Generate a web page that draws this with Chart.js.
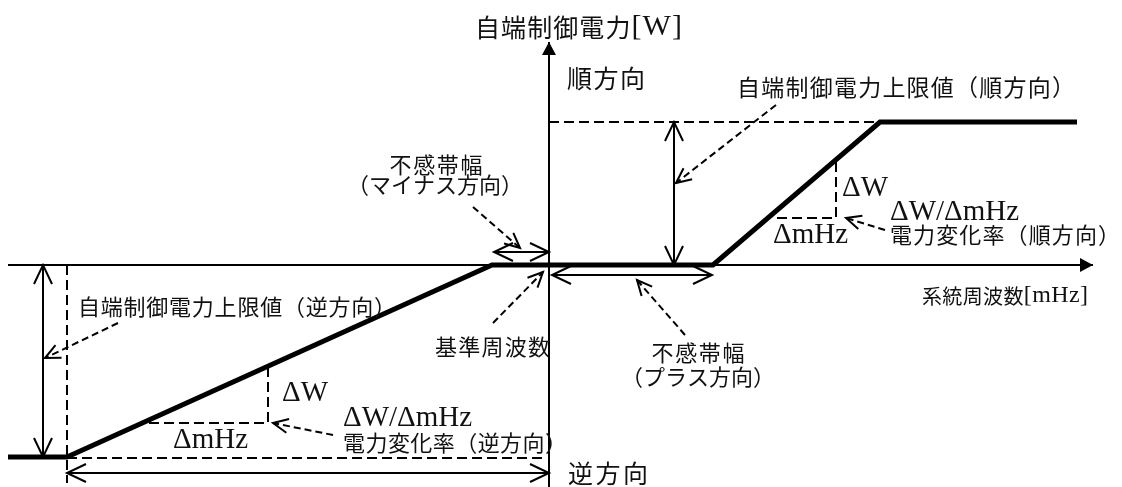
<!DOCTYPE html>
<html lang="ja">
<head>
<meta charset="utf-8">
<title>自端制御電力</title>
<script src="https://cdn.jsdelivr.net/npm/chart.js@4"></script>
<style>
  html, body { margin: 0; padding: 0; background: #fff; }
  #chart { display: block; }
</style>
</head>
<body>
<canvas id="chart" width="1122" height="487"></canvas>
<script>
(() => {
  // diagram units: frequency offset from the reference frequency / control power
  const freqRange = [-549, 573];
  const powerRange = [-222, 265];

  const freqAxisFreq = [-541, 544];
  const freqAxisPower = [0, 0];
  const powerAxisFreq = [0, 0];
  const powerAxisPower = [-222, 223];

  // control characteristic (bold)
  const droopFreq = [-541, -482, -57, 164, 331, 528];
  const droopPower = [-192, -192, 0, 0, 143, 143];

  // dashed guides
  const fwdLimitFreq = [0, 331];
  const fwdLimitPower = [143, 143];
  const revLimitFreq = [-482, -482];
  const revLimitPower = [0, -218];
  const revEdgeFreq = [-482, -6];
  const revEdgePower = [-193, -193];
  const fwdStepFreq = [287, 287, 223];
  const fwdStepPower = [103, 47, 47];
  const revStepFreq = [-281, -281, -402];
  const revStepPower = [-102, -158, -158];

  // double-headed dimension arrows
  const fwdSpanFreq = [125, 125];
  const fwdSpanPower = [0, 143];
  const revSpanFreq = [-506, -506];
  const revSpanPower = [0, -192];
  const minusBandFreq = [-55, 0];
  const minusBandPower = [13, 13];
  const plusBandFreq = [3, 163];
  const plusBandPower = [-10, -10];
  const revBandFreq = [-482, 0];
  const revBandPower = [-208, -208];

  // dashed leader arrows [fromFreq, toFreq], [fromPower, toPower]
  const leaders = [
    { freq: [227, 127], power: [160, 82] },
    { freq: [336, 297], power: [35, 47] },
    { freq: [-76, -29], power: [58, 17] },
    { freq: [-56, -6], power: [-58, -7] },
    { freq: [136, 88], power: [-70, -15] },
    { freq: [-431, -504], power: [-58, -93] },
    { freq: [-216, -276], power: [-170, -158] },
  ];

  const labelTexts = [
    "自端制御電力[W]", "順方向", "自端制御電力上限値（順方向）",
    "不感帯幅", "（マイナス方向）", "ΔW", "ΔW/ΔmHz", "ΔmHz",
    "電力変化率（順方向）", "系統周波数[mHz]", "自端制御電力上限値（逆方向）",
    "基準周波数", "不感帯幅", "（プラス方向）", "ΔW", "ΔW/ΔmHz", "ΔmHz",
    "電力変化率（逆方向）", "逆方向",
  ];
  const labelFreq = [-74, 18, 188, -113, -114, 293, 341, 224, 341, 373, -471, -114, 149, 149, -267, -206, -376, -206, 19];
  const labelPower = [238, 187, 178, 100, 80, 77, 53, 30, 30, -31, -42, -82, -88, -112, -128, -153, -175, -178, -208];

  const labelSize = [25, 25, 23, 22, 22, 24, 24, 24, 22, 20, 22, 22, 22, 22, 24, 24, 24, 22, 25];
  // 0 = natural width
  const labelWidth = [207, 78, 338, 93, 0, 0, 0, 0, 230, 166, 318, 115, 93, 0, 0, 0, 0, 224, 80];
  const labelAlign = ["left", "left", "left", "center", "center", "left", "left", "left", "left", "left", "left", "left", "center", "center", "left", "left", "left", "left", "left"];

  const LATIN_SCALE = 1.2;

  function points(xs, ys) {
    return xs.map((x, i) => ({ x, y: ys[i] }));
  }

  function line(xs, ys, style) {
    return Object.assign({
      data: points(xs, ys),
      showLine: true,
      borderColor: "#000",
      backgroundColor: "#000",
      borderWidth: 2,
      pointRadius: 0,
      fill: false,
      borderCapStyle: "butt",
      borderJoinStyle: "miter",
    }, style);
  }

  const guide = { borderDash: [10, 5] };
  const openBoth = { heads: { start: true, end: true, len: 19, half: 9 } };

  const datasets = [
    line(freqAxisFreq, freqAxisPower, { heads: { end: true, filled: true, len: 13, half: 7 } }),
    line(powerAxisFreq, powerAxisPower, { heads: { end: true, filled: true, len: 13, half: 7 } }),
    line(fwdLimitFreq, fwdLimitPower, guide),
    line(revLimitFreq, revLimitPower, guide),
    line(revEdgeFreq, revEdgePower, guide),
    line(fwdStepFreq, fwdStepPower, guide),
    line(revStepFreq, revStepPower, guide),
    line(fwdSpanFreq, fwdSpanPower, openBoth),
    line(revSpanFreq, revSpanPower, openBoth),
    line(minusBandFreq, minusBandPower, openBoth),
    line(plusBandFreq, plusBandPower, openBoth),
    line(revBandFreq, revBandPower, openBoth),
    line(droopFreq, droopPower, { borderWidth: 5 }),
  ];
  leaders.forEach((l) => {
    datasets.push(line(l.freq, l.power, { borderDash: [7, 4], heads: { end: true, len: 15, half: 7 } }));
  });

  function drawHead(ctx, from, to, h) {
    const ang = Math.atan2(to.y - from.y, to.x - from.x);
    const bx = to.x - h.len * Math.cos(ang);
    const by = to.y - h.len * Math.sin(ang);
    const px = -Math.sin(ang) * h.half;
    const py = Math.cos(ang) * h.half;
    ctx.save();
    ctx.setLineDash([]);
    ctx.strokeStyle = "#000";
    ctx.fillStyle = "#000";
    ctx.lineWidth = 2;
    ctx.beginPath();
    if (h.filled) {
      ctx.moveTo(to.x, to.y);
      ctx.lineTo(bx + px, by + py);
      ctx.lineTo(bx - px, by - py);
      ctx.closePath();
      ctx.fill();
    } else {
      ctx.moveTo(bx + px, by + py);
      ctx.lineTo(to.x, to.y);
      ctx.lineTo(bx - px, by - py);
      ctx.stroke();
    }
    ctx.restore();
  }

  const arrowHeads = {
    id: "arrowHeads",
    afterDatasetsDraw(chart) {
      chart.data.datasets.forEach((ds, i) => {
        if (!ds.heads) return;
        const pts = chart.getDatasetMeta(i).data;
        const n = pts.length;
        if (ds.heads.end) drawHead(chart.ctx, pts[n - 2], pts[n - 1], ds.heads);
        if (ds.heads.start) drawHead(chart.ctx, pts[1], pts[0], ds.heads);
      });
    },
  };

  // latin / greek glyphs in a Times-like face, Japanese in Noto Sans CJK
  function glyphFont(ch, size) {
    return ch.charCodeAt(0) < 0x2000
      ? `${Math.round(size * LATIN_SCALE)}px "Liberation Serif", serif`
      : `${size}px "Noto Sans CJK JP", sans-serif`;
  }

  const labels = {
    id: "labels",
    afterDraw(chart) {
      const ctx = chart.ctx;
      const { x, y } = chart.scales;
      ctx.save();
      ctx.fillStyle = "#111";
      ctx.textBaseline = "middle";
      ctx.textAlign = "left";
      labelTexts.forEach((text, i) => {
        const chars = Array.from(text);
        const adv = chars.map((ch) => {
          ctx.font = glyphFont(ch, labelSize[i]);
          return ctx.measureText(ch).width;
        });
        const natural = adv.reduce((a, b) => a + b, 0);
        const gap = labelWidth[i] && chars.length > 1 ? (labelWidth[i] - natural) / (chars.length - 1) : 0;
        const total = natural + gap * (chars.length - 1);
        let px = x.getPixelForValue(labelFreq[i]);
        if (labelAlign[i] === "center") px -= total / 2;
        const py = y.getPixelForValue(labelPower[i]);
        chars.forEach((ch, k) => {
          ctx.font = glyphFont(ch, labelSize[i]);
          ctx.fillText(ch, px, py);
          px += adv[k] + gap;
        });
      });
      ctx.restore();
    },
  };

  new Chart(document.getElementById("chart"), {
    type: "scatter",
    data: { datasets },
    options: {
      responsive: false,
      animation: false,
      events: [],
      layout: { padding: 0 },
      plugins: { legend: { display: false }, tooltip: { enabled: false } },
      scales: {
        x: { type: "linear", display: false, min: freqRange[0], max: freqRange[1] },
        y: { type: "linear", display: false, min: powerRange[0], max: powerRange[1] },
      },
    },
    plugins: [arrowHeads, labels],
  });
})();
</script>
</body>
</html>
